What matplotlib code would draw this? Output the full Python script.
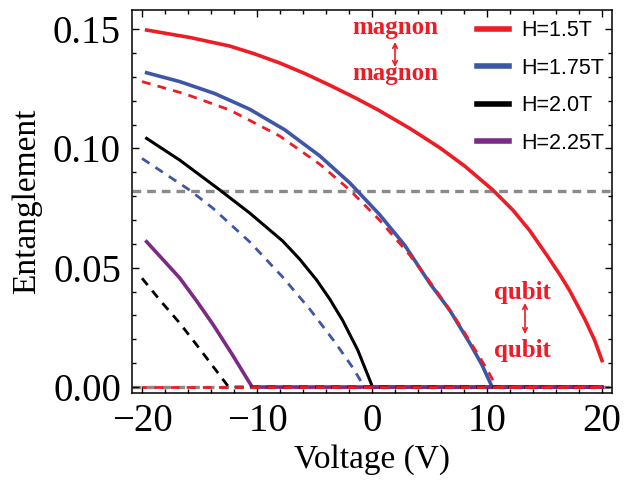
import matplotlib
matplotlib.use("Agg")
import matplotlib.pyplot as plt
from matplotlib.ticker import MultipleLocator

# ---- data ----
labels = ["H=1.5T", "H=1.75T", "H=2.0T", "H=2.25T"]
colors = ["#ee1c25", "#3d56a6", "#000000", "#7d2a86"]

# solid curves (magnon-magnon entanglement)
v_red = [-19.6, -15.85, -12.38, -10.2, -8.03, -5.85, -3.68, -1.5, 0.5, 3.28, 5.89, 8.06,
         10.5, 12.24, 13.71, 15.28, 16.32, 17.19, 18.5, 19.37, 20.0]
e_red = [0.1496, 0.1465, 0.1429, 0.1396, 0.1358, 0.1314, 0.1265, 0.1213, 0.1162, 0.1084,
         0.1003, 0.0926, 0.0826, 0.0742, 0.0656, 0.0547, 0.0472, 0.0404, 0.0285, 0.0195,
         0.0111]

v_blue = [-19.6, -16.72, -13.68, -10.63, -7.59, -4.55, -1.94, 0.67, 2.85, 5.02, 6.76,
          8.5, 9.54, 10.45, 20.0]
e_blue = [0.1317, 0.1280, 0.1230, 0.1164, 0.1078, 0.0969, 0.0856, 0.0722, 0.0594,
          0.0435, 0.0322, 0.0184, 0.0095, 0.0, 0.0]

v_black = [-19.6, -16.72, -13.24, -10.63, -7.77, -6.29, -4.81, -3.68, -2.55, -1.24, 0.05, 20.0]
e_black = [0.1042, 0.0951, 0.0826, 0.0729, 0.0612, 0.0536, 0.0448, 0.0369, 0.0279,
           0.0155, 0.0, 0.0]

v_purple = [-19.6, -16.72, -15.24, -13.85, -12.2, -10.42, 20.0]
e_purple = [0.0609, 0.0457, 0.0360, 0.0264, 0.0140, 0.0, 0.0]

# dashed curves (qubit-qubit entanglement)
v_red_d = [-20.0, -16.3, -12.37, -8.03, -4.55, -1.94, 0.67, 3.28, 5.45, 7.63, 9.36,
           10.23, 10.84, 20.0]
e_red_d = [0.1280, 0.1229, 0.1161, 0.1052, 0.0934, 0.0826, 0.0699, 0.0553, 0.0414,
           0.0260, 0.0126, 0.0054, 0.0, 0.0]

v_blue_d = [-20.0, -15.85, -13.85, -10.63, -7.77, -5.42, -3.24, -1.77, -0.65, 20.0]
e_blue_d = [0.0958, 0.0825, 0.0750, 0.0608, 0.0461, 0.0327, 0.0189, 0.0088, 0.0, 0.0]

v_black_d = [-20.0, -18.46, -16.72, -15.24, -13.85, -12.46, 20.0]
e_black_d = [0.0456, 0.0365, 0.0268, 0.0176, 0.0088, 0.0, 0.0]

v_zero = [-20, 20]
e_zero = [0.0, 0.0]

threshold_levels = [0.0822, 0.0]

xticks = [-20, -10, 0, 10, 20]
yticks = [0.00, 0.05, 0.10, 0.15]

# ---- figure ----
fig = plt.figure(figsize=(6.33, 4.91), dpi=100)
ax = fig.add_axes([132 / 633, 98 / 491, 480 / 633, 383 / 491])

for lv in threshold_levels:
    ax.axhline(lv, color="#8a8a8a", lw=2.4, ls=(0, (2.6, 1.8)), zorder=1)

lw_s = 2.6
ax.plot(v_blue, e_blue, color=colors[1], lw=lw_s, zorder=2, label=labels[1])
ax.plot(v_black, e_black, color=colors[2], lw=2.2, zorder=2.1, label=labels[2])
ax.plot(v_purple, e_purple, color=colors[3], lw=lw_s, zorder=2.2, label=labels[3])
ax.plot(v_red, e_red, color=colors[0], lw=lw_s, zorder=2.3, label=labels[0])

dash = (0, (3.2, 2.6))
ax.plot(v_blue_d, e_blue_d, color=colors[1], lw=2.0, ls=dash, zorder=3)
ax.plot(v_black_d, e_black_d, color=colors[2], lw=2.0, ls=dash, zorder=3.1)
ax.plot(v_zero, e_zero, color=colors[0], lw=2.0, ls=(1.5, (3.2, 2.6)), zorder=3.2)
ax.plot(v_red_d, e_red_d, color=colors[0], lw=2.0, ls=dash, zorder=3.3)

ax.set_xlim(-20.87, 20.87)
ax.set_ylim(-0.0025, 0.158)

serif = "Liberation Serif"
ax.set_xticks(xticks)
ax.set_yticks(yticks)
ax.set_xticklabels([f"{t:d}".replace("-", "\u2212") for t in xticks], fontfamily=serif, fontsize=28)
ax.set_yticklabels([f"{t:.2f}" for t in yticks], fontfamily=serif, fontsize=28)
ax.xaxis.set_minor_locator(MultipleLocator(2))
ax.yaxis.set_minor_locator(MultipleLocator(0.01))
ax.tick_params(which="both", direction="in", top=True, right=True, width=1.0)
ax.tick_params(which="major", length=5)
ax.tick_params(axis="x", which="major", pad=7)
ax.tick_params(axis="y", which="major", pad=8)
ax.tick_params(which="minor", length=3)
for s in ax.spines.values():
    s.set_linewidth(1.1)

ax.set_xlabel("Voltage (V)", fontfamily=serif, fontsize=24, labelpad=3)
ax.set_ylabel("Entanglement", fontfamily=serif, fontsize=24, labelpad=8)

handles, labs = ax.get_legend_handles_labels()
order = [labs.index(l) for l in labels]
leg = fig.legend([handles[i] for i in order], [labs[i] for i in order],
                 loc="upper left", bbox_to_anchor=(477 / 633, 1 - 20.5 / 491),
                 frameon=False, prop={"family": "Liberation Sans", "size": 15.5},
                 handlelength=1.5, handletextpad=0.56, labelspacing=0.76,
                 borderpad=0, borderaxespad=0)
for h in leg.legend_handles:
    h.set_linewidth(4)

red_txt = "#ee1c25"
fkw = dict(fontfamily=serif, fontweight="bold", color=red_txt, fontsize=18,
           ha="center", va="center")


def px(xp, yp):
    return ((xp - 132) / 480, (393 - yp) / 383)


ax.text(*px(395, 27), "magnon", transform=ax.transAxes, **fkw)
ax.text(*px(395, 73), "magnon", transform=ax.transAxes, **fkw)
ax.annotate("", xy=px(395, 67), xytext=px(395, 42), xycoords="axes fraction",
            textcoords="axes fraction",
            arrowprops=dict(arrowstyle="<->", color=red_txt, lw=1.2, shrinkA=0, shrinkB=0,
                            mutation_scale=8))
ax.text(*px(522, 292), "qubit", transform=ax.transAxes, **fkw)
ax.text(*px(522, 351), "qubit", transform=ax.transAxes, **fkw)
ax.annotate("", xy=px(525, 334), xytext=px(525, 303), xycoords="axes fraction",
            textcoords="axes fraction",
            arrowprops=dict(arrowstyle="<->", color=red_txt, lw=1.2, shrinkA=0, shrinkB=0,
                            mutation_scale=8))

fig.savefig("out.png", dpi=100)
